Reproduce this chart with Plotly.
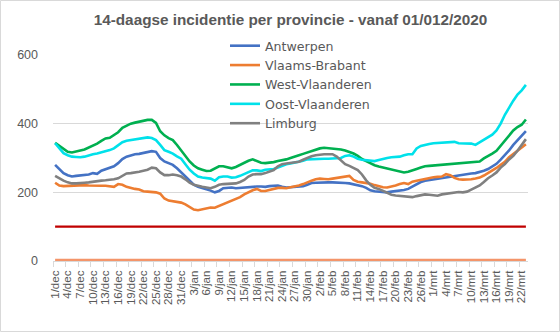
import pandas as pd
import plotly.graph_objects as go

# ---- data ----
month_nl = {12: "dec", 1: "jan", 2: "feb", 3: "mrt"}
dates = pd.date_range("2020-12-01", "2021-03-23", freq="D")
day_labels = [f"{d.day}/{month_nl[d.month]}" for d in dates]

antwerpen = [280, 268, 256, 250, 246, 248, 249, 250, 252, 256, 254, 263, 267, 270, 276, 285, 297, 304, 308, 311,
             312, 314, 316, 320, 318, 300, 290, 286, 280, 270, 258, 245, 236, 222, 216, 213, 210, 205, 200, 204,
             212, 213, 214, 212, 213, 215, 217, 217, 217, 217, 216, 218, 219, 220, 216, 214, 215, 216, 217, 218,
             222, 227, 228, 229, 229, 229, 229, 229, 228, 227, 226, 224, 222, 218, 213, 206, 203, 202, 201, 200,
             202, 203, 205, 207, 210, 217, 224, 230, 234, 236, 238, 239, 241, 243, 246, 249, 251, 252, 253, 255,
             256, 259, 263, 268, 276, 283, 295, 308, 322, 338, 352, 367, 378]

vlaams_brabant = [228, 220, 218, 219, 220, 221, 222, 221, 220, 219, 219, 219, 219, 218, 216, 224, 222, 216, 212, 210,
                  208, 203, 202, 202, 200, 196, 182, 176, 174, 172, 170, 165, 158, 150, 148, 150, 153, 156, 155, 160,
                  166, 171, 176, 182, 186, 194, 201, 206, 210, 204, 204, 207, 210, 213, 213, 212, 215, 217, 220, 224,
                  230, 234, 238, 240, 239, 238, 240, 242, 243, 244, 248, 236, 231, 229, 228, 225, 221, 217, 215, 214,
                  216, 220, 224, 227, 224, 231, 234, 237, 240, 242, 244, 245, 246, 253, 250, 242, 238, 237, 237, 238,
                  240, 243, 249, 256, 263, 271, 280, 289, 302, 311, 320, 330, 340]

west_vlaanderen = [344, 335, 325, 318, 316, 318, 322, 325, 330, 337, 342, 350, 357, 359, 366, 375, 388, 395, 400, 403,
                   406, 410, 411, 411, 402, 378, 366, 358, 352, 338, 322, 305, 290, 278, 270, 266, 262, 263, 270, 276,
                   276, 272, 270, 274, 280, 287, 292, 296, 292, 286, 285, 286, 288, 291, 293, 296, 300, 305, 308, 312,
                   316, 321, 325, 328, 330, 329, 327, 326, 325, 322, 318, 313, 306, 297, 291, 284, 279, 275, 272, 268,
                   265, 262, 261, 258, 260, 263, 268, 272, 276, 277, 278, 278, 279, 280, 281, 282, 284, 285, 286, 286,
                   287, 290, 299, 305, 313, 321, 335, 349, 365, 380, 390, 397, 412]

oost_vlaanderen = [343, 328, 314, 308, 304, 303, 302, 304, 308, 311, 313, 316, 318, 323, 328, 338, 346, 350, 352, 355,
                   358, 359, 360, 358, 352, 338, 323, 318, 313, 305, 298, 282, 266, 255, 246, 243, 241, 240, 234, 244,
                   246, 246, 243, 244, 248, 254, 258, 264, 264, 262, 266, 267, 268, 272, 278, 282, 284, 286, 288, 292,
                   296, 297, 298, 298, 298, 298, 298, 298, 300, 306, 308, 304, 298, 295, 293, 292, 291, 294, 298, 300,
                   302, 303, 304, 308, 311, 311, 328, 335, 339, 341, 343, 344, 344, 345, 346, 347, 343, 342, 342, 342,
                   338, 345, 352, 359, 368, 380, 400, 426, 448, 467, 485, 497, 513]

limburg = [248, 240, 234, 229, 226, 226, 226, 228, 229, 231, 234, 234, 235, 236, 238, 241, 248, 255, 256, 257,
           260, 263, 266, 272, 270, 258, 250, 250, 252, 250, 246, 238, 228, 222, 218, 216, 214, 212, 216, 222,
           224, 224, 224, 226, 230, 236, 246, 252, 253, 253, 256, 260, 265, 276, 282, 284, 286, 287, 289, 295,
           301, 305, 308, 310, 311, 311, 311, 304, 293, 282, 277, 272, 265, 252, 235, 222, 213, 210, 205, 198,
           193, 191, 190, 190, 188, 186, 189, 192, 194, 193, 191, 190, 194, 196, 198, 201, 201, 200, 202, 208,
           214, 220, 230, 241, 249, 258, 272, 282, 296, 306, 321, 338, 355]

threshold_100 = [100] * len(day_labels)
baseline_0 = [0] * len(day_labels)

series = [
    ("Antwerpen", antwerpen, "#4472C4"),
    ("Vlaams-Brabant", vlaams_brabant, "#ED7D31"),
    ("West-Vlaanderen", west_vlaanderen, "#00B050"),
    ("Oost-Vlaanderen", oost_vlaanderen, "#00E1EA"),
    ("Limburg", limburg, "#808080"),
]

fig = go.Figure()
for name, vals, col in series:
    fig.add_trace(go.Scatter(x=day_labels, y=vals, name=name, mode="lines",
                             line=dict(color=col, width=2.6)))
fig.add_trace(go.Scatter(x=day_labels, y=threshold_100, mode="lines", showlegend=False,
                         line=dict(color="#C00000", width=2.4), hoverinfo="skip"))
fig.add_trace(go.Scatter(x=day_labels, y=baseline_0, mode="lines", showlegend=False,
                         line=dict(color="#F4956A", width=4.5), hoverinfo="skip"))

L, R, T, B = 53, 32, 55, 71
W, H = 560, 332
pw, ph = W - L - R, H - T - B

fig.update_layout(
    width=W, height=H,
    margin=dict(l=L, r=R, t=T, b=B, autoexpand=False),
    paper_bgcolor="white", plot_bgcolor="white",
    title=dict(text="<b>14-daagse incidentie per provincie - vanaf 01/012/2020</b>",
               x=0.5, xref="paper", xanchor="center", y=1 - 20 / H, yanchor="middle",
               font=dict(family="Liberation Sans", size=15.3, color="#595959")),
    legend=dict(x=(225 - L) / pw, y=(H - B - 31) / ph, xanchor="left", yanchor="top",
                bgcolor="rgba(0,0,0,0)", font=dict(family="DejaVu Sans", size=12.6, color="#595959"),
                itemwidth=30),
    xaxis=dict(type="category", tickmode="linear", tick0=0, dtick=3, tickangle=-90,
               tickson="boundaries", ticks="outside", ticklen=5, tickcolor="#D9D9D9",
               showgrid=False, showline=True, linecolor="#D9D9D9", linewidth=1,
               tickfont=dict(family="Liberation Sans", size=11.5, color="#595959"),
               ticklabelstandoff=4, range=[-0.5, len(day_labels) - 0.5]),
    yaxis=dict(range=[0, 600], tickmode="linear", tick0=0, dtick=200, showgrid=True,
               gridcolor="#D9D9D9", gridwidth=1, zeroline=False, showline=False, ticks="",
               tickfont=dict(family="Liberation Sans", size=12.5, color="#595959"),
               ticklabelstandoff=14),
    shapes=[dict(type="rect", xref="paper", yref="paper",
                 x0=(0.5 - L) / pw, x1=(W - 0.5 - L) / pw,
                 y0=-(B - 0.5) / ph, y1=1 + (T - 0.5) / ph,
                 line=dict(color="#D9D9D9", width=1), fillcolor="rgba(0,0,0,0)", layer="below")],
)

fig.write_html("out.html")
